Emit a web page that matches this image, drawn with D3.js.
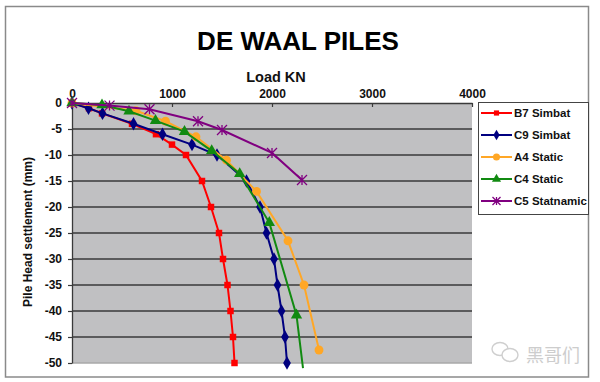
<!DOCTYPE html>
<html>
<head>
<meta charset="utf-8">
<script src="https://cdn.jsdelivr.net/npm/d3@7"></script>
<style>
html,body{margin:0;padding:0;background:#fff;}
svg{display:block;font-family:"Liberation Sans",Arial,sans-serif;}
</style>
</head>
<body>
<svg id="chart" width="600" height="382"></svg>
<script>
// ---- data ----
const seriesNames = ["B7 Simbat", "C9 Simbat", "A4 Static", "C4 Static", "C5 Statnamic"];
const b7Load   = [0, 170, 300, 600, 840, 1000, 1140, 1300, 1390, 1470, 1510, 1555, 1585, 1610, 1625];
const b7Settle = [0, -1, -2, -4, -6, -8, -10, -15, -20, -25, -30, -35, -40, -45, -50];
const c9Load   = [0, 165, 305, 615, 905, 1200, 1450, 1745, 1880, 1945, 2020, 2055, 2095, 2130, 2150];
const c9Settle = [0, -1, -2, -4, -6, -8, -10, -15, -20, -25, -30, -35, -40, -45, -50];
const a4Load   = [0, 640, 935, 1240, 1545, 1845, 2160, 2320, 2470];
const a4Settle = [0, -1.5, -3.5, -6.5, -11, -17, -26.5, -35, -47.5];
const c4Load   = [0, 300, 570, 835, 1125, 1397, 1677, 1973, 2245, 2310];
const c4Settle = [0, -0.4, -1.6, -3.4, -5.5, -9.2, -13.6, -23, -40.8, -51];
const c5Load   = [0, 375, 775, 1260, 1500, 2000, 2300];
const c5Settle = [0, -0.5, -1.2, -3.5, -5.2, -9.6, -14.8];
const xTicks = [0, 1000, 2000, 3000, 4000];
const yTicks = [0, -5, -10, -15, -20, -25, -30, -35, -40, -45, -50];

const colors = ["#ff0000", "#000080", "#ffa726", "#118a11", "#800080"];
const markers = ["square", "diamond", "circle", "triangle", "star"];
const loads = [b7Load, c9Load, a4Load, c4Load, c5Load];
const settles = [b7Settle, c9Settle, a4Settle, c4Settle, c5Settle];
const series = seriesNames.map((name, i) => ({
  name, color: colors[i], marker: markers[i],
  points: loads[i].map((l, j) => ({load: l, s: settles[i][j]}))
}));

// ---- layout ----
const svg = d3.select("#chart");
const x = d3.scaleLinear().domain([0, 4000]).range([72, 472]);
const y = d3.scaleLinear().domain([0, -50]).range([103, 363]);

// outer frame
svg.append("rect").attr("x", 5.5).attr("y", 6.5).attr("width", 583).attr("height", 370.5)
  .attr("fill", "#fff").attr("stroke", "#8a8a8a").attr("stroke-width", 1.5);

// plot area
svg.append("rect").attr("x", x(0)).attr("y", y(0))
  .attr("width", x(4000) - x(0)).attr("height", y(-50) - y(0))
  .attr("fill", "#c0c0c2");

// gridlines
svg.append("g").selectAll("line").data(yTicks.filter(v => v !== 0))
  .join("line")
  .attr("x1", x(0)).attr("x2", x(4000))
  .attr("y1", d => y(d)).attr("y2", d => y(d))
  .attr("stroke", d => d === -50 ? "#a8a8a8" : "#3a3a3a")
  .attr("stroke-width", 1.3);

// top axis
const xAxis = d3.axisTop(x).tickValues(xTicks).tickFormat(d3.format("d"))
  .tickSizeInner(-4).tickSizeOuter(0).tickPadding(5);
const gx = svg.append("g").attr("transform", `translate(0,${y(0)})`).call(xAxis);
gx.select(".domain").attr("stroke", "#3a3a3a").attr("stroke-width", 1.3);
gx.selectAll(".tick line").attr("stroke", "#3a3a3a").attr("stroke-width", 1.2);
gx.selectAll(".tick text").attr("font-size", 12).attr("font-weight", "bold")
  .attr("font-family", "Liberation Sans, Arial, sans-serif").attr("fill", "#111");

// left axis
const yAxis = d3.axisLeft(y).tickValues(yTicks).tickFormat(d3.format("d"))
  .tickSizeInner(4).tickSizeOuter(0).tickPadding(6);
const gy = svg.append("g").attr("transform", `translate(${x(0)},0)`).call(yAxis);
gy.select(".domain").attr("stroke", "#3a3a3a").attr("stroke-width", 1.3);
gy.selectAll(".tick line").attr("stroke", "#3a3a3a").attr("stroke-width", 1.2);
gy.selectAll(".tick text").text(d => d === 0 ? "0" : "-" + Math.abs(d))
  .attr("font-size", 12).attr("font-weight", "bold")
  .attr("font-family", "Liberation Sans, Arial, sans-serif").attr("fill", "#111");

// titles
svg.append("text").attr("x", 298).attr("y", 49.5).attr("text-anchor", "middle")
  .attr("font-size", 26).attr("font-weight", "bold").attr("fill", "#000").text("DE WAAL PILES");
svg.append("text").attr("x", 276).attr("y", 81.5).attr("text-anchor", "middle")
  .attr("font-size", 14.5).attr("font-weight", "bold").attr("fill", "#111").text("Load KN");
svg.append("text").attr("transform", "translate(32,232) rotate(-90)").attr("text-anchor", "middle")
  .attr("font-size", 12).attr("font-weight", "bold").attr("fill", "#111").text("Pile Head settlement (mm)");

// marker drawing
function drawMarker(g, type, color, cx, cy, scale) {
  scale = scale || 1;
  if (type === "star") {
    const r = 5 * scale;
    const p = `M${cx - r},${cy - r}L${cx + r},${cy + r}M${cx - r},${cy + r}L${cx + r},${cy - r}M${cx},${cy - r}L${cx},${cy + r}`;
    g.append("path").attr("d", p).attr("stroke", color).attr("stroke-width", 1.3).attr("fill", "none");
    return;
  }
  const types = {square: d3.symbolSquare, diamond: d3.symbolDiamond, circle: d3.symbolCircle, triangle: d3.symbolTriangle};
  const sizes = {square: 42, diamond: 52, circle: 62, triangle: 56};
  g.append("path").attr("d", d3.symbol(types[type], sizes[type] * scale * scale)())
    .attr("transform", `translate(${cx},${cy})`).attr("fill", color);
}

// series lines and markers
const line = d3.line().x(d => x(d.load)).y(d => y(d.s));
series.forEach(sr => {
  const g = svg.append("g");
  g.append("path").datum(sr.points).attr("d", line)
    .attr("fill", "none").attr("stroke", sr.color).attr("stroke-width", 2);
  sr.points.filter(p => p.s >= -50).forEach(p => drawMarker(g, sr.marker, sr.color, x(p.load), y(p.s)));
});

// legend
const lg = svg.append("g");
lg.append("rect").attr("x", 478.5).attr("y", 102.5).attr("width", 110).attr("height", 112)
  .attr("fill", "#fff").attr("stroke", "#444").attr("stroke-width", 1);
series.forEach((sr, i) => {
  const cy = 113 + i * 22;
  lg.append("line").attr("x1", 481).attr("x2", 512).attr("y1", cy).attr("y2", cy)
    .attr("stroke", sr.color).attr("stroke-width", 2);
  drawMarker(lg, sr.marker, sr.color, 496.5, cy, 0.8);
  lg.append("text").attr("x", 514).attr("y", cy + 4).attr("font-size", 11.5)
    .attr("font-weight", "bold").attr("fill", "#111").text(sr.name);
});

// watermark
const wm = svg.append("g").attr("fill", "none").attr("stroke", "#cfcfcf").attr("stroke-width", 1.4);
wm.append("ellipse").attr("cx", 500).attr("cy", 349).attr("rx", 8).attr("ry", 6.5);
wm.append("ellipse").attr("cx", 510).attr("cy", 355).attr("rx", 8).attr("ry", 6.5).attr("fill", "#fff");
svg.append("text").attr("x", 526).attr("y", 362).attr("font-size", 18)
  .attr("font-family", "Noto Sans CJK SC, sans-serif").attr("fill", "#cdcdcd").text("黑哥们");
</script>
</body>
</html>
